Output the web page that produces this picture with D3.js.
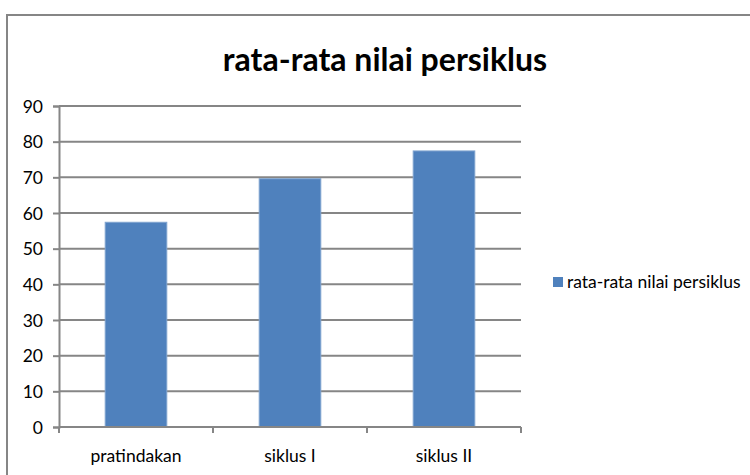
<!DOCTYPE html>
<html>
<head>
<meta charset="utf-8">
<script src="https://cdn.jsdelivr.net/npm/d3@7"></script>
<style>
  body { margin: 0; background: #fff; }
  text { font-family: Lato, "Open Sans", sans-serif; fill: #000; }
</style>
</head>
<body>
<script>
// data
var categories = ["pratindakan", "siklus I", "siklus II"];
var values = [57.4, 69.6, 77.4];
var seriesName = "rata-rata nilai persiklus";
var yTicks = [0, 10, 20, 30, 40, 50, 60, 70, 80, 90];

var width = 750, height = 475;
var margin = {top: 106, left: 59, right: 229, bottom: 48}; // plot area 59..521, 106..427

var svg = d3.select("body").append("svg").attr("width", width).attr("height", height);

// outer chart frame
svg.append("rect")
    .attr("x", 7).attr("y", 15)
    .attr("width", 760).attr("height", 480)
    .attr("fill", "#fff")
    .attr("stroke", "#868686")
    .attr("stroke-width", 2);

var x = d3.scaleBand()
    .domain(categories)
    .range([margin.left, width - margin.right])
    .paddingInner(0.6)
    .paddingOuter(0.3);

var y = d3.scaleLinear()
    .domain([0, 90])
    .range([height - margin.bottom, margin.top]);

// gridlines
svg.append("g").selectAll("line")
    .data(yTicks.slice(1))
    .enter().append("line")
      .attr("x1", margin.left).attr("x2", width - margin.right)
      .attr("y1", function(d) { return y(d); }).attr("y2", function(d) { return y(d); })
      .attr("stroke", "#868686").attr("stroke-width", 2);

// y axis
var yAxis = d3.axisLeft(y).tickValues(yTicks).tickSize(6).tickPadding(10);
var gy = svg.append("g").attr("transform", "translate(" + margin.left + ",0)").call(yAxis);
gy.select(".domain").attr("stroke", "#868686").attr("stroke-width", 2);
gy.selectAll(".tick line").attr("stroke", "#868686").attr("stroke-width", 2);
gy.selectAll("text").style("font-size", "17.5px").attr("fill", "#000").attr("dy", "0.35em");

// bars
svg.append("g").selectAll("rect")
    .data(values)
    .enter().append("rect")
      .attr("x", function(d, i) { return x(categories[i]); })
      .attr("y", function(d) { return y(d); })
      .attr("width", x.bandwidth())
      .attr("height", function(d) { return y(0) - y(d); })
      .attr("fill", "#4F81BD")
      .attr("stroke", "#7FA3CF")
      .attr("stroke-width", 1);

// x axis, ticks at category boundaries
var x0 = y(0);
var gx = svg.append("g");
gx.append("line")
    .attr("x1", margin.left).attr("x2", width - margin.right)
    .attr("y1", x0).attr("y2", x0)
    .attr("stroke", "#868686").attr("stroke-width", 2);
var bounds = d3.range(categories.length + 1).map(function(i) { return margin.left + i * (width - margin.left - margin.right) / categories.length; });
gx.selectAll(".tk").data(bounds).enter().append("line")
    .attr("x1", function(d) { return d; }).attr("x2", function(d) { return d; })
    .attr("y1", x0).attr("y2", x0 + 6)
    .attr("stroke", "#868686").attr("stroke-width", 2);
gx.selectAll(".lb").data(categories).enter().append("text")
    .attr("x", function(d) { return x(d) + x.bandwidth() / 2; })
    .attr("y", x0 + 35)
    .attr("text-anchor", "middle")
    .style("font-size", "17.5px")
    .text(function(d) { return d; });

// title
svg.append("text")
    .attr("x", 385).attr("y", 71)
    .attr("text-anchor", "middle")
    .style("font-size", "32px").style("font-weight", "bold")
    .text(seriesName);

// legend
var lg = svg.append("g").attr("transform", "translate(553,277)");
lg.append("rect").attr("width", 10).attr("height", 10).attr("fill", "#4F81BD");
lg.append("text").attr("x", 14).attr("y", 11).style("font-size", "17.5px").text(seriesName);
</script>
</body>
</html>
